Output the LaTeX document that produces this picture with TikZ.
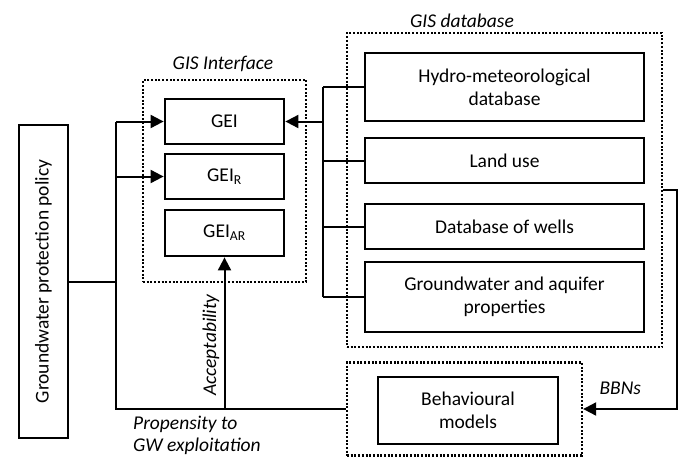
\documentclass[tikz,border=0pt]{standalone}
\usepackage{fontspec}
\setmainfont{Carlito}
\usetikzlibrary{arrows.meta}
\begin{document}
\begin{tikzpicture}[x=1pt,y=-1pt,
  font=\fontsize{19.5}{23}\selectfont,
  solidbox/.style={draw, line width=2.8pt, rectangle, inner sep=0pt, align=center},
  dotbox/.style={draw, line width=2.3pt, dash pattern=on 2pt off 1.7pt, rectangle, inner sep=0pt},
  conn/.style={line width=2pt},
  arr/.style={line width=2pt, -{Triangle[length=13pt,width=13pt]}},
  lbl/.style={font=\fontsize{19.5}{23}\selectfont\itshape}]
\useasboundingbox (0,0) rectangle (684,458);
% dotted frames
\node[dotbox, minimum width=163pt, minimum height=202pt] (gisint) at (224.5,181) {};
\node[dotbox, minimum width=315pt, minimum height=314pt] (gisdb) at (504.5,190) {};
\node[dotbox, minimum width=235pt, minimum height=93pt] (behbox) at (464.5,409) {};
\node[lbl] (lint) at (223,64) {GIS Interface};
\node[lbl] (ldb) at (462,21) {GIS database};
% boxes
\node[solidbox, rotate=90, minimum width=313pt, minimum height=49pt] (policy) at (43.5,281.5) {Groundwater protection policy};
\node[solidbox, minimum width=119pt, minimum height=45pt] (gei) at (224.5,121.5) {GEI};
\node[solidbox, minimum width=119pt, minimum height=45pt] (geir) at (224.5,176.5) {GEI\textsubscript{R}};
\node[solidbox, minimum width=119pt, minimum height=46pt] (geiar) at (224.5,233) {GEI\textsubscript{AR}};
\node[solidbox, minimum width=279pt, minimum height=68pt] (hydro) at (504.5,87) {Hydro-meteorological\\database};
\node[solidbox, minimum width=279pt, minimum height=45pt] (land) at (504.5,160.5) {Land use};
\node[solidbox, minimum width=279pt, minimum height=45pt] (wells) at (504.5,226.5) {Database of wells};
\node[solidbox, minimum width=279pt, minimum height=70pt] (gw) at (504.5,297) {Groundwater and aquifer\\properties};
\node[solidbox, minimum width=180pt, minimum height=67pt] (beh) at (468,410.5) {Behavioural\\models};
% coordinates
\coordinate (lb) at (116,0);
\coordinate (rbus) at (323,0);
\coordinate (rb) at (677,0);
\coordinate (bot) at (0,409);
% left bus
\draw[conn] (policy.south) -- (lb |- policy.south);
\draw[conn] (lb |- gei.west) -- (lb |- bot) -- (behbox.west);
\draw[arr] (lb |- gei.west) -- (gei.west);
\draw[arr] (lb |- geir.west) -- (geir.west);
\draw[arr] (geiar.south |- bot) -- (geiar.south);
% right bus
\draw[conn] (rbus |- hydro.west) -- (rbus |- gw.west);
\draw[conn] (hydro.west) -- (rbus |- hydro.west);
\draw[conn] (land.west) -- (rbus |- land.west);
\draw[conn] (wells.west) -- (rbus |- wells.west);
\draw[conn] (gw.west) -- (rbus |- gw.west);
\draw[arr] (rbus |- gei.east) -- (gei.east);
% BBNs
\draw[arr] (gisdb.east) -- (rb |- gisdb.east) -- (rb |- behbox.east) -- (behbox.east);
% labels
\node[lbl, rotate=90] (lacc) at (211,345) {Acceptability};
\node[lbl, anchor=west] (lbbn) at (596,388) {BBNs};
\node[lbl, anchor=north west, align=left, font=\fontsize{19.5}{21.5}\selectfont\itshape, inner sep=0pt] (lprop) at (133,416) {Propensity to\\GW exploitation};
\end{tikzpicture}
\end{document}
